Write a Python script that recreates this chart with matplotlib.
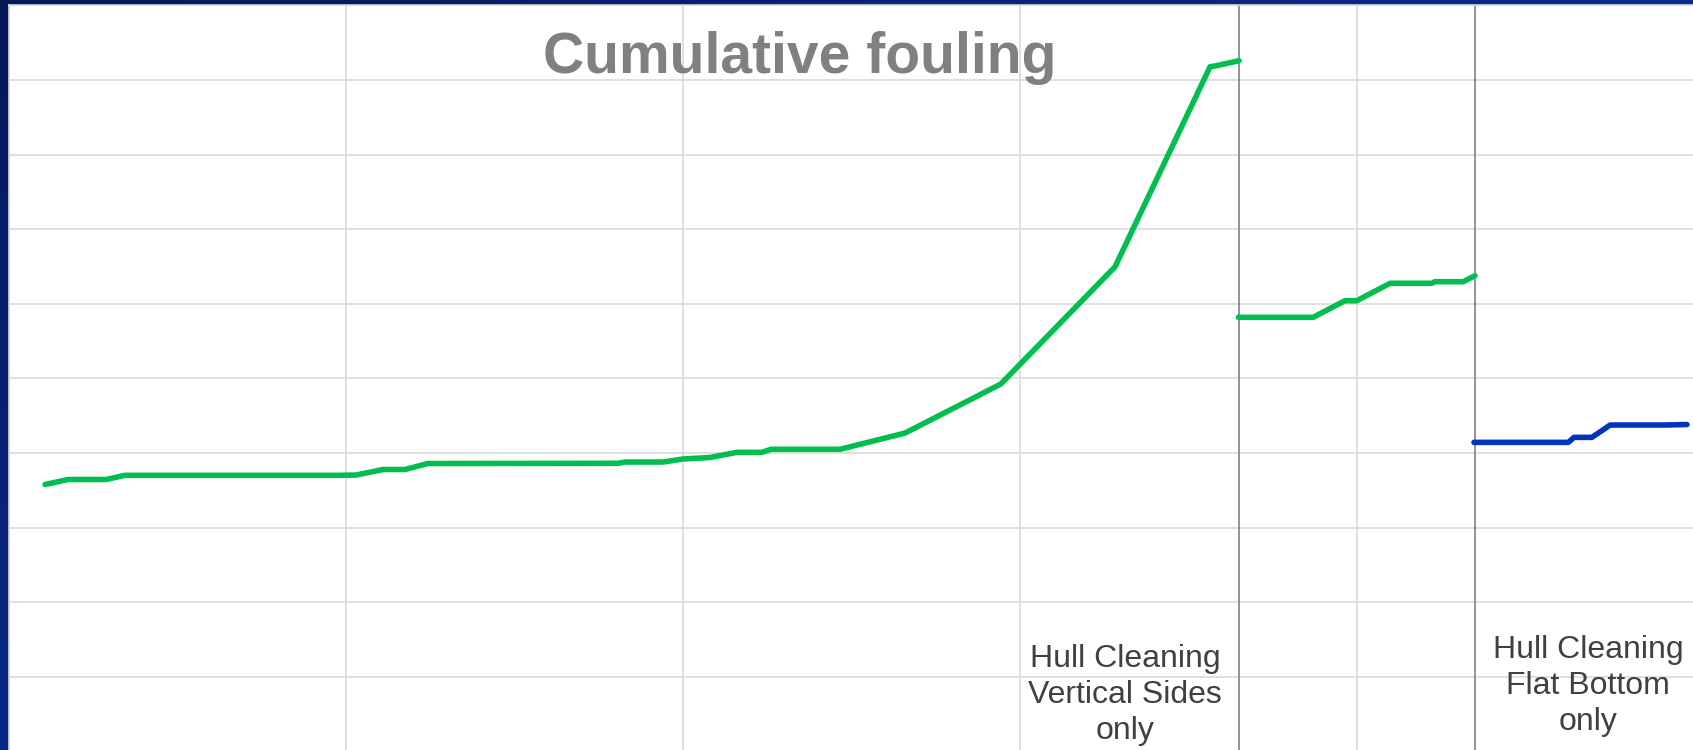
import numpy as np
import matplotlib.pyplot as plt
from matplotlib.colors import LinearSegmentedColormap

# Fouling index before any cleaning
x_before = [0.107, 0.175, 0.288, 0.344, 0.982, 1.030, 1.110, 1.175, 1.243, 1.807,
            1.828, 1.941, 2.000, 2.080, 2.160, 2.234, 2.261, 2.466, 2.659, 2.943,
            3.282, 3.564, 3.579, 3.650]
y_before = [3.578, 3.645, 3.645, 3.701, 3.701, 3.705, 3.779, 3.779, 3.859, 3.862,
            3.879, 3.879, 3.920, 3.940, 4.009, 4.009, 4.050, 4.050, 4.268, 4.925,
            6.497, 9.178, 9.188, 9.259]

# After cleaning the vertical sides
x_sides = [3.648, 3.870, 3.964, 3.999, 4.098, 4.222, 4.231, 4.315, 4.350]
y_sides = [5.819, 5.819, 6.041, 6.041, 6.275, 6.275, 6.296, 6.296, 6.377]

# After cleaning the flat bottom
x_bottom = [4.347, 4.627, 4.644, 4.697, 4.751, 4.909, 4.979]
y_bottom = [4.143, 4.143, 4.210, 4.210, 4.375, 4.375, 4.382]

cleaning_events = [3.650, 4.350]
event_labels = ['Hull Cleaning\nVertical Sides\nonly', 'Hull Cleaning\nFlat Bottom\nonly']
label_x = [3.311, 4.685]
label_y = [0.76, 0.88]

title = 'Cumulative fouling'

fig = plt.figure(figsize=(16.93, 7.5), dpi=100)

# slide-style blue backdrop
bg = fig.add_axes([0, 0, 1, 1], zorder=0)
cmap = LinearSegmentedColormap.from_list('slide', ['#06185a', '#0a2a8a', '#0048b8'])
gx, gy = np.meshgrid(np.linspace(0, 1, 200), np.linspace(0, 1, 100))
bg.imshow(0.6 * gx + 0.5 * gy, cmap=cmap, aspect='auto', extent=[0, 1, 0, 1])
bg.axis('off')

ax = fig.add_axes([0.00532, -0.0019, 0.9953, 0.9947], zorder=1)
ax.set_facecolor('white')
ax.set_xlim(0, 5)
ax.set_ylim(0, 10)
ax.set_xticks(np.arange(0, 6))
ax.set_yticks(np.arange(0, 11))
ax.tick_params(length=0, labelbottom=False, labelleft=False)
ax.grid(True, color='#d9d9d9', linewidth=1.2)
for s in ax.spines.values():
    s.set_color('#d9d9d9')
    s.set_linewidth(1.2)

for xe in cleaning_events:
    ax.axvline(xe, color='#808080', linewidth=1.2, zorder=2)

line_kw = dict(linewidth=4.0, solid_capstyle='round', solid_joinstyle='round', zorder=3)
ax.plot(x_before, y_before, color='#00bf4f', **line_kw)
ax.plot(x_sides, y_sides, color='#00bf4f', **line_kw)
ax.plot(x_bottom, y_bottom, color='#0034bf', **line_kw)

for tx, ty, lab in zip(label_x, label_y, event_labels):
    ax.text(tx, ty, lab, ha='center', va='center', multialignment='center',
            fontsize=23, color='#404040', family='Liberation Sans', linespacing=1.27,
            zorder=4)

fig.text(800 / 1693, 1 - 73 / 750, title, ha='center', va='baseline',
         fontsize=41, fontweight='bold', color='#808080', family='Liberation Sans',
         zorder=5)

fig.savefig('out.png', dpi=100)
